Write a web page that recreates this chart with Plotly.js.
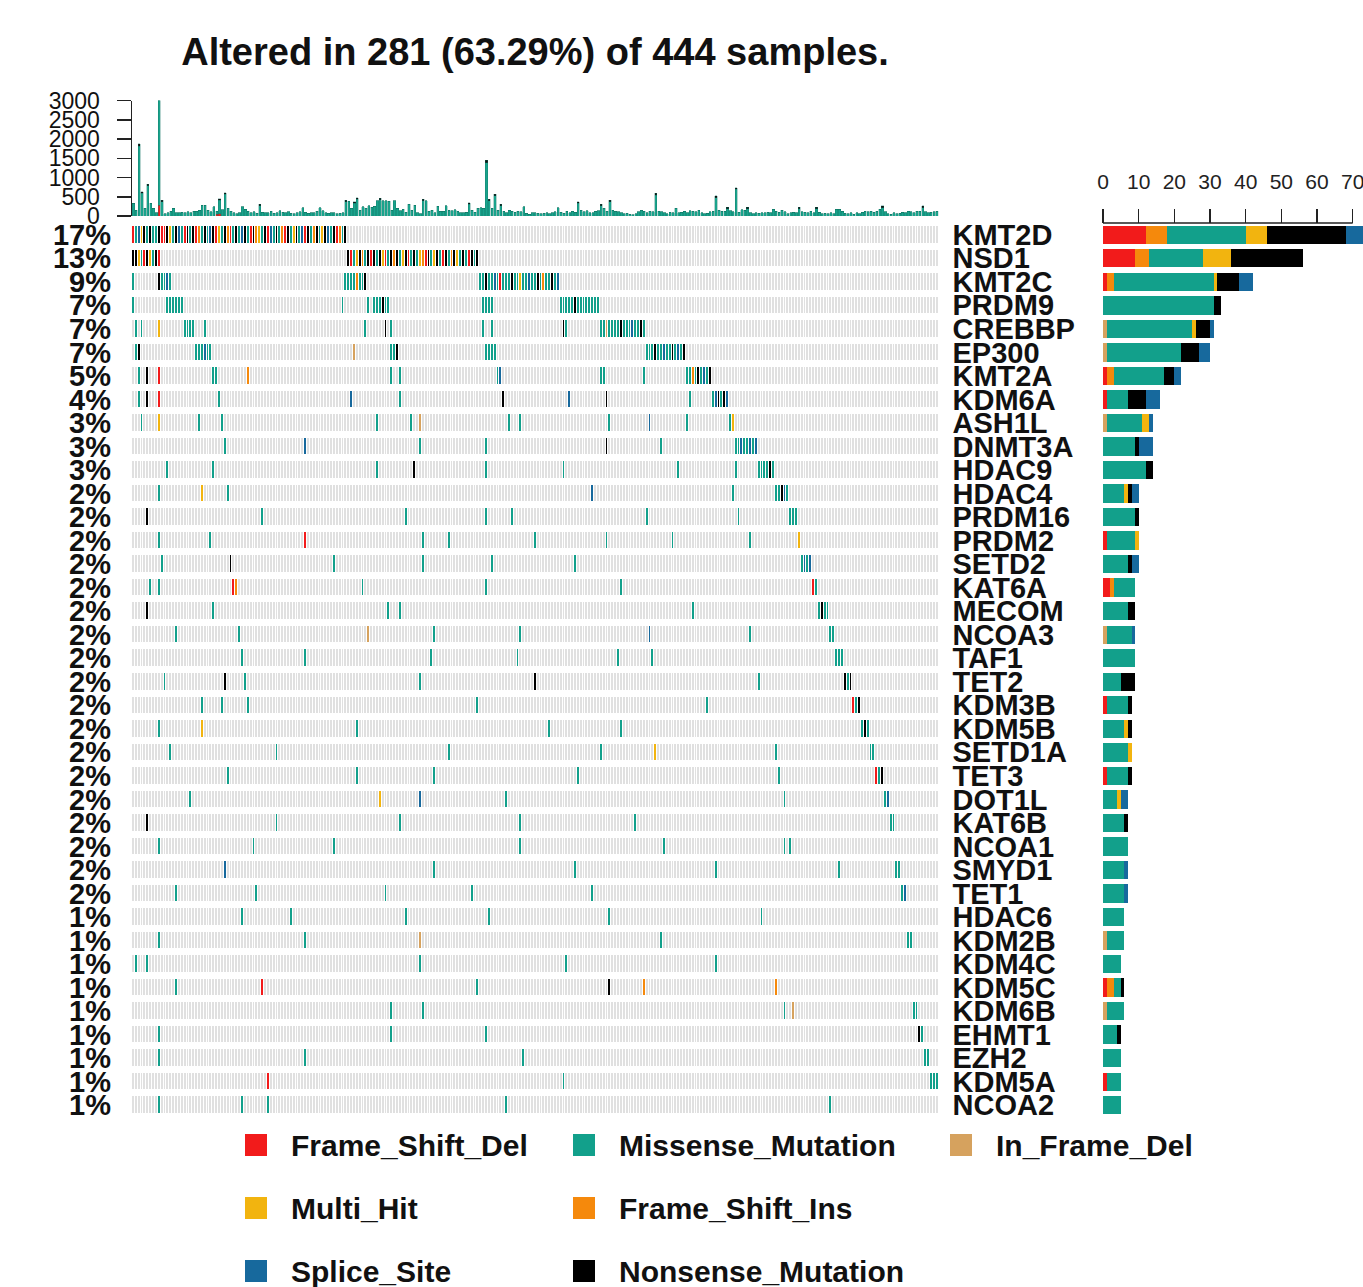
<!DOCTYPE html>
<html><head><meta charset="utf-8">
<script src="https://cdn.plot.ly/plotly-3.0.1.min.js"></script>
<style>html,body{margin:0;padding:0;background:#fff}#chart{width:1363px;height:1287px}</style>
</head><body><div id="chart"></div>
<script>
// ---------------- DATA ----------------
const genes = ["KMT2D","NSD1","KMT2C","PRDM9","CREBBP","EP300","KMT2A","KDM6A","ASH1L","DNMT3A",
  "HDAC9","HDAC4","PRDM16","PRDM2","SETD2","KAT6A","MECOM","NCOA3","TAF1","TET2",
  "KDM3B","KDM5B","SETD1A","TET3","DOT1L","KAT6B","NCOA1","SMYD1","TET1","HDAC6",
  "KDM2B","KDM4C","KDM5C","KDM6B","EHMT1","EZH2","KDM5A","NCOA2"];
const altPct = ["17%","13%","9%","7%","7%","7%","5%","4%","3%","3%",
  "3%","2%","2%","2%","2%","2%","2%","2%","2%","2%",
  "2%","2%","2%","2%","2%","2%","2%","2%","2%","1%",
  "1%","1%","1%","1%","1%","1%","1%","1%"];

// right-hand bar counts per variant class (samples)
const nFrameShiftDel = [12,9,1,0,0,0,1,1,0,0, 0,0,0,1,0,2,0,0,0,0, 1,0,0,1,0,0,0,0,0,0, 0,0,1,0,0,0,1,0];
const nFrameShiftIns = [6,4,2,0,0,0,2,0,0,0, 0,0,0,0,0,1,0,0,0,0, 0,0,0,0,0,0,0,0,0,0, 0,0,2,0,0,0,0,0];
const nInFrameDel    = [0,0,0,0,1,1,0,0,1,0, 0,0,0,0,0,0,0,1,0,0, 0,0,0,0,0,0,0,0,0,0, 1,0,0,1,0,0,0,0];
const nMissense      = [22,15,28,31,24,21,14,6,10,9, 12,6,9,8,7,6,7,7,9,5, 6,6,7,6,4,6,7,6,6,6, 5,5,2,5,4,5,4,5];
const nMultiHit      = [6,8,1,0,1,0,0,0,2,0, 0,1,0,1,0,0,0,0,0,0, 0,1,1,0,1,0,0,0,0,0, 0,0,0,0,0,0,0,0];
const nNonsense      = [22,20,6,2,4,5,3,5,0,1, 2,1,1,0,1,0,2,0,0,4, 1,1,0,1,0,1,0,0,0,0, 0,0,1,0,1,0,0,0];
const nSpliceSite    = [7,0,4,0,1,3,2,4,1,4, 0,2,0,0,2,0,0,1,0,0, 0,0,0,0,2,0,0,1,1,0, 0,0,0,0,0,0,0,0];

// oncoplot: mutated sample positions (column order) per gene, and variant code per mutated sample
// codes: F=Frame_Shift_Del I=Frame_Shift_Ins D=In_Frame_Del M=Missense H=Multi_Hit N=Nonsense S=Splice_Site
const geneSamples = [
  "0-74","0-9,75-120","0,9-13,74-81,121-148","0,12-17,73,82,84-89,122-125,149-162",
  "1,3,9,18-21,25,81,88,90,122,125,150,151,163-178","1,2,22-27,77,90-92,123-126,179-192",
  "2,5,9,28,29,40,90,93,127,128,163,164,178,193-201","2,5,9,30,76,93,129,152,165,194,202-207",
  "3,9,23,31,85,97,100,131,135,166,180,193,208,209","32,60,100,123,165,184,210-217",
  "12,28,85,98,123,150,190,210,218-223","9,24,33,160,209,224-228","5,45,95,123,132,179,211,229-231",
  "9,27,60,101,110,140,165,188,215,232","10,34,70,101,125,154,233-236","6,9,35,36,80,123,170,237,238",
  "5,28,89,93,195,239-242","15,37,82,105,135,180,215,243,244","38,60,104,134,169,181,245-247",
  "11,32,39,100,140,218,248-250","24,31,40,120,200,251-253","9,24,78,145,170,254-256",
  "13,50,110,163,182,224,257,258","33,78,105,155,225,259-261","20,86,100,130,227,262,263",
  "5,50,93,135,175,264,265","9,42,70,135,185,227,229","32,105,154,203,246,266,267",
  "15,43,88,118,160,268,269","38,55,95,124,166,219","9,60,100,184,270,271","1,5,100,151,203",
  "15,45,120,166,178,224","90,101,227,230,272,273","9,90,123,274,275","9,60,136,276,277",
  "47,150,278-280","9,38,47,130,243"];
const geneTypes = [
  "FMSHNMNMMNFFNHMNSMFNMNFIMNMSNFHMNIFMNMSNMFNIHMNFSMNMIFNMHNMSFNMINMHNSMNFIMN",
  "NNHMFNHMNF"+"NFMHNIMNFNMNHFMNINMHNFMNMHIFNMHNMFNMINHMNMFNMN",
  "MNMMSMMMMMIMMN"+"MMNMMSMFMMMNMMHMMSMMNMIMMNMS",
  "MMMMMMMMMMMMNMMMMMM"+"MMMMMNMMMMMMMM",
  "MMHMMMMMMNMMMNM"+"MMDMMMMNMMMSMMNM",
  "MNMMMSMMDMMNMMMM"+"MMMNMMSMMNMSMN",
  "MNFMMIMMMSMMM"+"MMIMNMSMN",
  "MNFMSMNSNM"+"MSNMNS",
  "MHMMMMDMMMSM"+"MH",
  "MSMMNM"+"MMSMMSMS",
  "MMMNMMMM"+"MMMMNM",
  "MHMSM"+"MMNSM",
  "NMMMMMM"+"MMM",
  "MMFMMMMMM"+"H",
  "MNMMMM"+"MSMS",
  "MMFIMMM"+"FM",
  "NMMMM"+"MNMM",
  "MMDMMSM"+"MM",
  "MMMMMM"+"MMM",
  "MNMMNM"+"NMN",
  "MMMMM"+"FMN",
  "MHMMM"+"MNM",
  "MMMMHM"+"MM",
  "MMMMM"+"FMN",
  "MHSMM"+"MS",
  "NMMMM"+"MM",
  "MMMMMMM",
  "SMMMM"+"MM",
  "MMMMM"+"MS",
  "MMMMMM",
  "MMDM"+"MM",
  "MMMMM",
  "MFMNII",
  "MMMD"+"MM",
  "MMM"+"NM",
  "MMMMM",
  "FM"+"MMM",
  "MMMMM"];

// top bar: total mutations per sample (same column order)
const tmbTotal = [
  330,150,1880,630,200,830,330,200,80,3100,410,60,90,120,200,90,80,100,90,110,
  80,130,120,150,285,280,150,110,240,130,450,160,610,200,120,90,60,80,240,180,
  120,90,110,70,310,100,80,90,130,70,80,140,100,90,110,70,60,90,110,215,
  100,70,80,90,120,215,140,90,70,80,90,60,70,80,410,380,200,370,480,150,
  240,200,260,230,250,390,460,400,390,380,150,390,200,140,180,100,310,150,285,80,
  60,440,400,120,150,90,250,120,130,270,150,140,160,120,90,80,100,350,150,100,
  200,210,200,1450,430,200,560,150,310,120,80,150,120,100,130,110,240,70,50,90,
  80,70,60,70,80,60,90,110,215,100,70,120,80,130,100,370,150,110,140,90,
  80,120,140,300,200,120,410,150,130,110,80,60,70,40,30,60,110,150,120,90,
  130,110,590,120,110,90,60,100,90,200,80,100,120,90,140,130,110,150,90,60,
  70,110,130,520,150,120,130,225,140,110,740,100,160,150,225,90,60,80,70,90,
  80,100,90,170,130,100,150,110,60,80,100,90,225,110,100,80,120,90,225,100,
  60,70,60,80,60,170,170,120,70,60,80,50,90,60,100,120,110,130,100,120,
  180,260,110,60,50,80,60,70,100,90,120,110,80,130,120,260,110,90,100,110,
  120];
const tmbNonIdx = [2,3,5,9,10,30,32,44,74,77,78,86,101,117,123,124,126,128,155,163,166,182,203,207,210,214,232,238,261,275];
const tmbNonVal = [70,40,40,90,40,40,50,40,40,40,40,40,40,40,70,40,40,40,40,40,40,50,50,40,50,40,40,40,40,40];
const tmbFsdIdx = [9,29,30];
const tmbFsdVal = [280,40,60];

const legendNames = ["Frame_Shift_Del","Missense_Mutation","In_Frame_Del","Multi_Hit","Frame_Shift_Ins","Splice_Site","Nonsense_Mutation"];

// ---------------- STYLE ----------------
const COL = {F:"#F21B1B", I:"#F5890C", D:"#D6A25E", M:"#12A08B", H:"#F2B40F", N:"#000000", S:"#17699D"};
const CODE = {F:1, I:2, D:3, M:4, H:5, N:6, S:7};
const EMPTY = "#e0e0e0";
const W = 1363, H = 1287;
const px = x => x / W, py = y => 1 - y / H;
const FONT = "Liberation Sans, Arial, Helvetica, sans-serif";

// ---------------- BUILD ----------------
function parseSamples(s){ const out=[]; s.split(",").forEach(p=>{ const q=p.split("-").map(Number); if(q.length===1) out.push(q[0]); else for(let i=q[0];i<=q[1];i++) out.push(i); }); return out; }
const nSamples = tmbTotal.length;
const sampleIdx = tmbTotal.map((_, i) => i);
const z = genes.map(() => new Array(nSamples).fill(0));
genes.forEach((g, gi) => {
  const ss = parseSamples(geneSamples[gi]); const tt = geneTypes[gi];
  ss.forEach((s, k) => { z[gi][s] = CODE[tt[k] || "M"]; });
});
const codeColors = [EMPTY, COL.F, COL.I, COL.D, COL.M, COL.H, COL.N, COL.S];
const cs = []; codeColors.forEach((c, k) => { cs.push([k/8, c]); cs.push([(k+1)/8, c]); });
const geneIdx = genes.map((_, i) => i);

const nonArr = new Array(nSamples).fill(0); tmbNonIdx.forEach((s,k)=>nonArr[s]=tmbNonVal[k]);
const fsdArr = new Array(nSamples).fill(0); tmbFsdIdx.forEach((s,k)=>fsdArr[s]=tmbFsdVal[k]);
const misArr = tmbTotal.map((t,i)=>Math.max(0, t - nonArr[i] - fsdArr[i]));

const traces = [];
traces.push({type:"heatmap", z:z, x:sampleIdx, y:geneIdx, xaxis:"x", yaxis:"y",
  colorscale:cs, zmin:-0.5, zmax:7.5, showscale:false, xgap:1, ygap:7, hoverinfo:"skip"});
traces.push({type:"scatter", x:genes.map(()=>-50), y:geneIdx, xaxis:"x", yaxis:"y4", mode:"markers",
  marker:{opacity:0}, showlegend:false, hoverinfo:"skip"});
// top bars
[[fsdArr, COL.F],[misArr, "#1aa38c"],[nonArr, "#111"]].forEach(([arr, c]) => {
  traces.push({type:"bar", x:sampleIdx, y:arr, xaxis:"x", yaxis:"y2", width:0.8,
    marker:{color:c, line:{color:"#0c6f5f", width:0.3}}, showlegend:false, hoverinfo:"skip"});
});
// right bars
[[nFrameShiftDel,COL.F],[nFrameShiftIns,COL.I],[nInFrameDel,COL.D],[nMissense,COL.M],
 [nMultiHit,COL.H],[nNonsense,COL.N],[nSpliceSite,COL.S]].forEach(([arr,c]) => {
  traces.push({type:"bar", orientation:"h", x:arr, y:geneIdx, xaxis:"x3", yaxis:"y3", width:0.78,
    marker:{color:c, line:{width:0}}, showlegend:false, hoverinfo:"skip"});
});

const gridTop = 223, gridBot = 1117;
const layout = {
  width:W, height:H, margin:{l:0,r:0,t:0,b:0}, paper_bgcolor:"#fff", plot_bgcolor:"rgba(0,0,0,0)",
  barmode:"stack", showlegend:false,
  font:{family:FONT, color:"#111"},
  title:{text:"Altered in 281 (63.29%) of 444 samples.", font:{size:38, weight:"bold", family:FONT, color:"#111"},
    x:px(535), xanchor:"center", y:py(52), yanchor:"middle"},
  xaxis:{domain:[px(132), px(938.5)], range:[-0.5, nSamples-0.5], showticklabels:false, ticks:"",
    showgrid:false, zeroline:false, showline:false, anchor:"y"},
  yaxis:{domain:[py(gridBot), py(gridTop)], range:[genes.length-0.5, -0.5], tickvals:geneIdx, ticktext:altPct,
    side:"left", ticks:"", showgrid:false, zeroline:false, showline:false, anchor:"x",
    ticklabelstandoff:20, tickfont:{size:29, weight:"bold", family:FONT, color:"#111"}},
  yaxis4:{overlaying:"y", anchor:"x", side:"right", range:[genes.length-0.5, -0.5], tickvals:geneIdx, ticktext:genes,
    ticks:"", showgrid:false, zeroline:false, showline:false, ticklabelstandoff:13,
    tickfont:{size:29, weight:"bold", family:FONT, color:"#111"}},
  yaxis2:{domain:[py(216), py(100.5)], range:[0,3000], tickvals:[0,500,1000,1500,2000,2500,3000],
    ticks:"outside", ticklen:14, tickwidth:1.5, tickcolor:"#222", showline:true, linecolor:"#222", linewidth:1.5,
    showgrid:false, zeroline:false, anchor:"x", tickfont:{size:23, family:FONT, color:"#111"}, ticklabelstandoff:12},
  xaxis3:{domain:[px(1103), 1], range:[0, (W-1103)/3.567], side:"top", anchor:"free", position:py(223),
    tickvals:[0,10,20,30,40,50,60,70], ticks:"outside", ticklen:14, tickwidth:1.5, tickcolor:"#222",
    ticklabeloverflow:"allow",
    showline:false, showgrid:false, zeroline:false, tickfont:{size:21, family:FONT, color:"#222"}, ticklabelstandoff:12},
  yaxis3:{domain:[py(gridBot), py(gridTop)], range:[genes.length-0.5, -0.5], anchor:"x3",
    showticklabels:false, ticks:"", showgrid:false, zeroline:false, showline:false},
  shapes:[{type:"line", xref:"x3", yref:"paper", x0:0, x1:70, y0:py(223), y1:py(223), line:{color:"#222", width:1.5}}],
  annotations:[]
};
// legend (3 columns, column-major as in reference)
const legPos = [[245,1145],[573,1145],[950,1145],[245,1208],[573,1208],[245,1271],[573,1271]];
const legCol = [COL.F, COL.M, COL.D, COL.H, COL.I, COL.S, COL.N];
legendNames.forEach((nm,k)=>{
  const [lx,ly] = legPos[k];
  layout.shapes.push({type:"rect", xref:"paper", yref:"paper", x0:px(lx), x1:px(lx+22), y0:py(ly+11), y1:py(ly-11),
    fillcolor:legCol[k], line:{width:0}});
  layout.annotations.push({xref:"paper", yref:"paper", x:px(lx+44), y:py(ly), xanchor:"left", yanchor:"middle",
    text:nm, showarrow:false, font:{size:30, weight:"bold", family:FONT, color:"#111"}});
});

Plotly.newPlot("chart", traces, layout, {displayModeBar:false, staticPlot:true});
</script></body></html>
